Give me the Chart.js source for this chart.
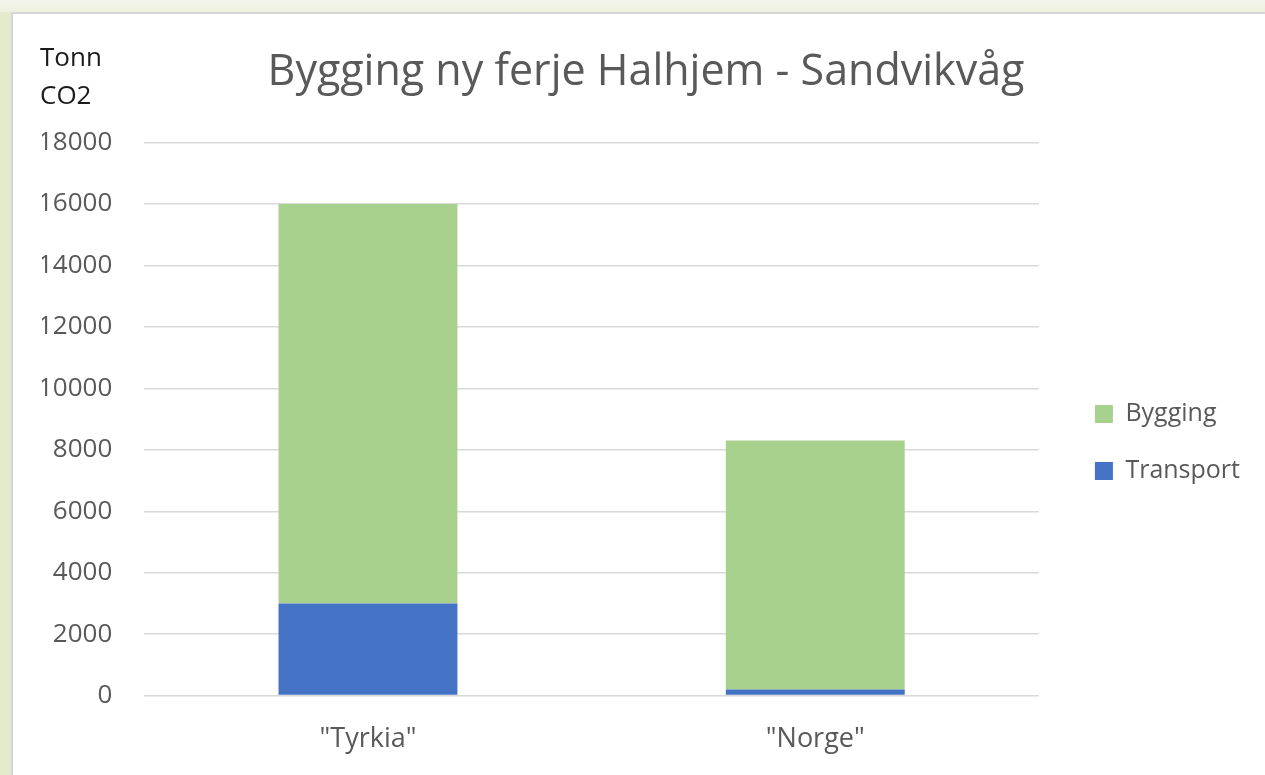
<!DOCTYPE html>
<html>
<head>
<meta charset="utf-8">
<script src="https://cdn.jsdelivr.net/npm/chart.js@4"></script>
<style>
  html, body { margin: 0; padding: 0; }
  body {
    width: 1265px; height: 775px; overflow: hidden;
    background: linear-gradient(#f3f5ea, #eef1e0 12px, #e4eacc 12px);
    position: relative;
  }
  #box {
    position: absolute; left: 11px; top: 12px; width: 1254px; height: 763px;
    background: #fff; border-left: 2px solid #d6d6d6; border-top: 2px solid #d6d6d6;
    box-sizing: border-box;
  }
</style>
</head>
<body>
<div id="box"><canvas id="co2Chart"></canvas></div>
<script>
// data
const categories = ['"Tyrkia"', '"Norge"'];
const transport = [3000, 200];
const bygging = [13000, 8100];
const yTicks = [0, 2000, 4000, 6000, 8000, 10000, 12000, 14000, 16000, 18000];

Chart.defaults.font.family = "'Open Sans', sans-serif";
Chart.defaults.color = "#595959";

// unit label top left
const unitLabel = {
    id: "unitLabel",
    afterDraw(chart) {
        const c = chart.ctx;
        c.save();
        c.fillStyle = "#1a1a1a";
        c.font = "26px 'Open Sans', sans-serif";
        c.textBaseline = "middle";
        c.fillText("Tonn", 27, 45);
        c.fillText("CO2", 27, 83);
        c.restore();
    },
};

const ctx = document.getElementById("co2Chart").getContext("2d");
new Chart(ctx, {
    type: "bar",
    data: {
        labels: categories,
        datasets: [
            {
                label: "Transport",
                data: transport,
                backgroundColor: "#4472c4",
                barPercentage: 0.4,
                categoryPercentage: 1,
            },
            {
                label: "Bygging",
                data: bygging,
                backgroundColor: "#a9d18e",
                barPercentage: 0.4,
                categoryPercentage: 1,
            },
        ],
    },
    options: {
        responsive: true,
        maintainAspectRatio: false,
        animation: false,
        layout: { padding: { left: 29, right: 15, top: 0, bottom: -9 } },
        plugins: {
            title: {
                display: true,
                text: "Bygging ny ferje Halhjem - Sandvikvåg",
                color: "#595959",
                font: { size: 43, weight: "normal" },
                padding: { top: 33, bottom: 44 },
            },
            legend: {
                position: "right",
                reverse: true,
                title: {
                    display: true,
                    text: " ",
                    font: { size: 10 },
                    padding: { top: 0, bottom: 75 },
                },
                labels: {
                    boxWidth: 18,
                    boxHeight: 18,
                    padding: 32,
                    color: "#595959",
                    font: { size: 25 },
                },
            },
            tooltip: { enabled: false },
        },
        scales: {
            x: {
                stacked: true,
                grid: { display: false, drawTicks: false },
                border: { display: false },
                ticks: { padding: 28, font: { size: 27 } },
            },
            y: {
                stacked: true,
                min: 0,
                max: 18000,
                afterBuildTicks: (axis) => {
                    axis.ticks = yTicks.map((v) => ({ value: v }));
                },
                afterFit: (axis) => {
                    axis.width -= 36;
                },
                grid: { color: "#d9d9d9", lineWidth: 1.5, drawTicks: false },
                border: { display: false },
                ticks: {
                    padding: 32,
                    font: { size: 26 },
                    callback: (v) => String(v),
                },
            },
            // empty spacer between plot and legend
            gap: {
                position: "right",
                display: true,
                grid: { display: false },
                border: { display: false },
                ticks: { display: false },
                afterFit: (axis) => {
                    axis.width = 24;
                },
            },
        },
    },
    plugins: [unitLabel],
});
</script>
</body>
</html>
